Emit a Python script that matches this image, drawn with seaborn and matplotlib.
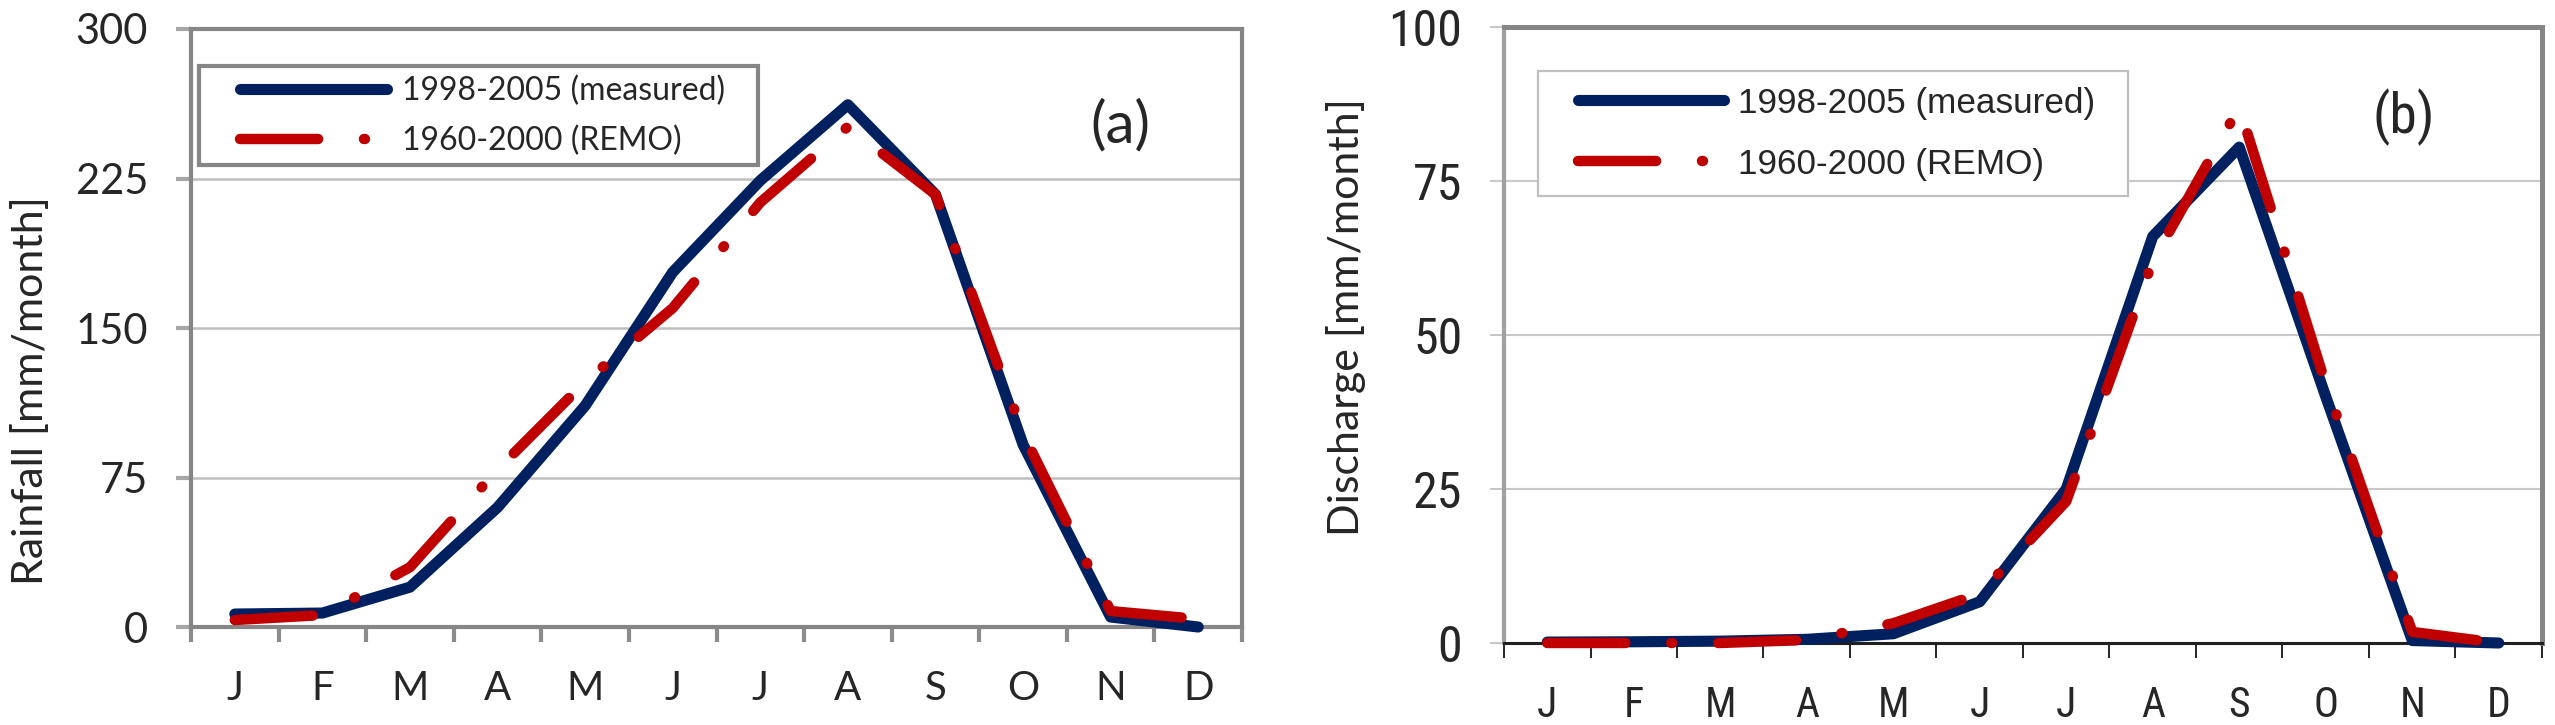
import numpy as np
import pandas as pd
import matplotlib
matplotlib.use("Agg")
import matplotlib.pyplot as plt
from matplotlib.lines import Line2D
from matplotlib.legend_handler import HandlerLine2D
import seaborn as sns

# ---- data ----
months = ['J', 'F', 'M', 'A', 'M', 'J', 'J', 'A', 'S', 'O', 'N', 'D']
rain_measured = [6.5, 7, 20, 60, 111, 178, 224, 262, 217, 91.5, 5, 0]
rain_remo = [3.5, 6, 30, 79, 123, 160, 213, 251, 217, 97, 8, 4]
dis_measured = [0.15, 0.2, 0.3, 0.6, 1.5, 6.7, 25, 66, 80.5, 40, 0.4, 0]
dis_remo = [0, 0, 0, 0.5, 3.2, 8, 23, 62, 87, 42, 1.8, 0]
label_measured = '1998-2005 (measured)'
label_remo = '1960-2000 (REMO)'
rain_ticks = [0, 75, 150, 225, 300]
dis_ticks = [0, 25, 50, 75, 100]

sns.set_style("white")
FA = ['Lato', 'DejaVu Sans']
FB = ['Liberation Sans', 'DejaVu Sans']
FBC = ['Roboto Condensed', 'Liberation Sans', 'DejaVu Sans']
plt.rcParams['font.family'] = FA

BLUE = '#002060'
RED = '#C00000'
DASH = (0, (7.5, 4.4, 0.1, 4.4))

fig = plt.figure(figsize=(25.55, 7.25), dpi=100)
axa = fig.add_axes([0.07476, 0.13517, 0.41135, 0.82483])
axb = fig.add_axes([0.58865, 0.11310, 0.40626, 0.84966])

pos = np.arange(len(months))


def draw(ax, measured, remo):
    df = pd.DataFrame({'pos': pos, 'measured': measured, 'remo': remo})
    sns.lineplot(data=df, x='pos', y='measured', ax=ax, color=BLUE, lw=8,
                 solid_capstyle='round', solid_joinstyle='round',
                 label=label_measured, clip_on=False, zorder=3)
    sns.lineplot(data=df, x='pos', y='remo', ax=ax, color=RED, lw=7.5,
                 linestyle=DASH, dash_capstyle='round', dash_joinstyle='round',
                 label=label_remo, clip_on=False, zorder=4)
    ax.set_xlim(-0.5, len(months) - 0.5)
    ax.set_xticks(pos)
    ax.set_xticklabels(months)
    ax.set_xticks(np.arange(-0.5, len(months), 1), minor=True)
    ax.set_xlabel('')
    ax.set_axisbelow(True)


# ---------------- panel (a) ----------------
draw(axa, rain_measured, rain_remo)
axa.set_ylim(0, 300)
axa.set_yticks(rain_ticks)
axa.yaxis.grid(True, color='#BFBFBF', lw=1.8)
for s in axa.spines.values():
    s.set_visible(True)
    s.set_color('#868686')
    s.set_linewidth(3)
axa.tick_params(axis='x', which='major', length=0, pad=31, labelsize=29)
axa.tick_params(axis='x', which='minor', length=11, width=3, color='#8C8C8C',
                direction='out', bottom=True)
axa.tick_params(axis='y', which='major', length=11, width=3, color='#A6A6A6',
                direction='out', left=True, pad=20, labelsize=30)
axa.set_ylabel('Rainfall [mm/month]', fontsize=31)
axa.yaxis.label.set_va('center')
axa.yaxis.set_label_coords(-0.153, 0.395)
axa.text(0.884, 0.838, '(a)', transform=axa.transAxes, fontsize=42,
         ha='center', va='center')
lega = axa.legend(loc='upper left', bbox_to_anchor=(0.0076, 0.938, 0.532, 0.0),
                  mode='expand', borderaxespad=0, fontsize=23,
                  handlelength=5.57, handletextpad=0.5, labelspacing=0.6,
                  borderpad=0.3, fancybox=False, framealpha=1,
                  handler_map={Line2D: HandlerLine2D(xpad=0.97)})
lega.get_frame().set_edgecolor('#868686')
lega.get_frame().set_linewidth(3)

# ---------------- panel (b) ----------------
draw(axb, dis_measured, dis_remo)
axb.set_ylim(0, 100)
axb.set_yticks(dis_ticks)
axb.yaxis.grid(True, color='#C8C8C8', lw=1.5)
for s in axb.spines.values():
    s.set_visible(True)
axb.spines['left'].set_color('#A0A0A0')
axb.spines['left'].set_linewidth(3)
axb.spines['top'].set_color('#868686')
axb.spines['top'].set_linewidth(3.6)
axb.spines['right'].set_color('#868686')
axb.spines['right'].set_linewidth(3.6)
axb.spines['bottom'].set_color('#202020')
axb.spines['bottom'].set_linewidth(2.2)
axb.tick_params(axis='x', which='major', length=0, pad=30, labelsize=30)
axb.tick_params(axis='x', which='minor', length=11, width=1.2, color='black',
                direction='out', bottom=True)
axb.tick_params(axis='y', which='major', length=10, width=1.5, color='#C8C8C8',
                direction='out', left=True, pad=20, labelsize=36)
for t in axb.get_xticklabels() + axb.get_yticklabels():
    t.set_family(FBC)
axb.set_ylabel('Discharge [mm/month]', fontsize=31)
axb.yaxis.label.set_va('center')
axb.yaxis.set_label_coords(-0.152, 0.529)
axb.text(0.867, 0.853, '(b)', transform=axb.transAxes, fontsize=40,
         ha='center', va='center', family=FBC)
legb = axb.legend(loc='upper left', bbox_to_anchor=(0.0328, 0.9286, 0.568, 0.0),
                  mode='expand', borderaxespad=0,
                  handlelength=4.83, handletextpad=0.4, labelspacing=0.79,
                  borderpad=0.45, fancybox=False, framealpha=1,
                  prop={'family': FB, 'size': 25.3},
                  handler_map={Line2D: HandlerLine2D(xpad=0.70)})
legb.get_frame().set_edgecolor('#BFBFBF')
legb.get_frame().set_linewidth(1.6)

fig.savefig('out.png', dpi=100)
